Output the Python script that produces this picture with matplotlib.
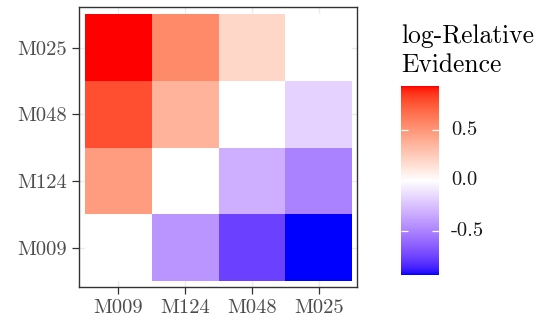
import numpy as np
import matplotlib
matplotlib.use("Agg")
import matplotlib.pyplot as plt
from matplotlib.colors import ListedColormap, Normalize

plt.rcParams["font.family"] = ["cmr10", "DejaVu Serif"]
plt.rcParams["axes.unicode_minus"] = False
plt.rcParams["axes.formatter.use_mathtext"] = True

# Model labels (x runs left to right, y bottom to top)
models_x = ["M009", "M124", "M048", "M025"]
models_y = ["M009", "M124", "M048", "M025"]

# log-relative evidence, one row per y model (bottom to top)
row_M009 = [0.00, -0.43, -0.77, -0.94]
row_M124 = [0.48, 0.00, -0.32, -0.51]
row_M048 = [0.79, 0.37, 0.00, -0.18]
row_M025 = [0.94, 0.56, 0.20, 0.00]

cbar_ticks = [-0.5, 0.0, 0.5]
cbar_ticklabels = ["-0.5", "0.0", "0.5"]
legend_title = "log-Relative\nEvidence"

Z = np.array([row_M009, row_M124, row_M048, row_M025])


# --- diverging palette interpolated in CIE Lab (blue - white - red) ---
def _lin(c):
    c = np.asarray(c, float)
    return np.where(c <= 0.04045, c / 12.92, ((c + 0.055) / 1.055) ** 2.4)


def _delin(c):
    c = np.clip(c, 0, 1)
    return np.where(c <= 0.0031308, 12.92 * c, 1.055 * c ** (1 / 2.4) - 0.055)


_M = np.array([[0.4124564, 0.3575761, 0.1804375],
               [0.2126729, 0.7151522, 0.0721750],
               [0.0193339, 0.1191920, 0.9503041]])
_WP = np.array([0.95047, 1.0, 1.08883])


def rgb2lab(rgb):
    xyz = _M @ _lin(rgb) / _WP
    f = np.where(xyz > (6 / 29) ** 3, np.cbrt(xyz), xyz / (3 * (6 / 29) ** 2) + 4 / 29)
    return np.array([116 * f[1] - 16, 500 * (f[0] - f[1]), 200 * (f[1] - f[2])])


def lab2rgb(lab):
    L, a, b = lab
    fy = (L + 16) / 116
    fx = fy + a / 500
    fz = fy - b / 200
    f = np.array([fx, fy, fz])
    xyz = np.where(f > 6 / 29, f ** 3, 3 * (6 / 29) ** 2 * (f - 4 / 29)) * _WP
    return _delin(np.linalg.solve(_M, xyz))


low, mid, high = rgb2lab([0, 0, 1]), rgb2lab([1, 1, 1]), rgb2lab([1, 0, 0])
cols = []
for t in np.linspace(0, 1, 511):
    if t < 0.5:
        s = t / 0.5
        lab = low + (mid - low) * s
    else:
        s = (t - 0.5) / 0.5
        lab = mid + (high - mid) * s
    cols.append(np.clip(lab2rgb(lab), 0, 1))
cmap = ListedColormap(cols)

lim = np.abs(Z).max()
norm = Normalize(vmin=-lim, vmax=lim)

fig = plt.figure(figsize=(5.42, 3.20), dpi=100)
W, H = 542, 320

# --- heatmap panel ---
ax = fig.add_axes([79 / W, 1 - 287 / H, 278 / W, 280 / H])
nx, ny = len(models_x), len(models_y)
ax.pcolormesh(np.arange(nx + 1) - 0.5, np.arange(ny + 1) - 0.5, Z,
              cmap=cmap, norm=norm, zorder=2)
ax.set_xlim(-0.59, nx - 0.5 + 0.07)
ax.set_ylim(-0.59, ny - 0.5 + 0.11)
ax.set_xticks(range(nx))
ax.set_xticklabels(models_x)
ax.set_yticks(range(ny))
ax.set_yticklabels(models_y)
ax.grid(True, color="#EBEBEB", linewidth=1.0, zorder=0)
ax.set_axisbelow(True)
for sp in ax.spines.values():
    sp.set_color("#333333")
    sp.set_linewidth(1.0)
ax.tick_params(axis="both", length=5, width=0.9, color="#333333",
               labelcolor="#4D4D4D", labelsize=14.8)
ax.tick_params(axis="x", pad=4.0)
ax.tick_params(axis="y", pad=3.5)

# --- colour bar legend ---
vmin_d, vmax_d = Z.min(), Z.max()
cax = fig.add_axes([401 / W, 1 - 275 / H, 38 / W, 189 / H])
grad = np.linspace(vmin_d, vmax_d, 300).reshape(-1, 1)
cax.imshow(grad, cmap=cmap, norm=norm, aspect="auto", origin="lower",
           extent=[0, 1, vmin_d, vmax_d], interpolation="bilinear")
cax.set_xlim(0, 1)
cax.set_ylim(vmin_d, vmax_d)
for sp in cax.spines.values():
    sp.set_visible(False)
cax.set_xticks([])
cax.set_yticks([])
for tv, tl in zip(cbar_ticks, cbar_ticklabels):
    cax.plot([0, 0.19], [tv, tv], color="white", lw=0.9, solid_capstyle="butt")
    cax.plot([0.81, 1], [tv, tv], color="white", lw=0.9, solid_capstyle="butt")
    cax.text(1.32, tv, tl, transform=cax.get_yaxis_transform(),
             ha="left", va="center", fontsize=14.8, color="#1A1A1A")

title_lines = legend_title.split("\n")
fig.text(401 / W, 1 - 43 / H, title_lines[0], ha="left",
         va="baseline", fontsize=18.4, color="black")
fig.text(401 / W, 1 - 71.5 / H, title_lines[1], ha="left",
         va="baseline", fontsize=18.4, color="black")

fig.savefig("out.png", dpi=100, facecolor="white")
